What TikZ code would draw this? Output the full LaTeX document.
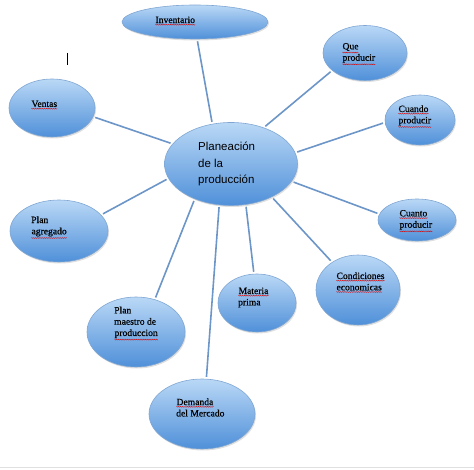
\documentclass[tikz,border=0pt]{standalone}
\usepackage{fontspec}
\setmainfont{Liberation Serif}
\newfontfamily\lblfont[FakeBold=0.5]{Liberation Serif}
\newfontfamily\headfont{Liberation Sans}
\usetikzlibrary{shapes.geometric,shadows,decorations.pathmorphing}
\definecolor{bubtop}{HTML}{BAD8F6}
\definecolor{bubbot}{HTML}{4F90D9}
\definecolor{bubedge}{HTML}{7FA6D3}
\definecolor{spokeblue}{HTML}{6C95C8}
% red spell-check squiggle under a word
\newcommand\squig[1]{\tikz[baseline=(w.base)]{\node[inner sep=0pt] (w) {#1};
  \draw[red!85!black, line width=0.3pt, decorate, decoration={snake, amplitude=0.5pt, segment length=1.8pt}]
    ([yshift=-1.4pt]w.south west) -- ([yshift=-1.4pt]w.south east);}}

\begin{document}
\begin{tikzpicture}[x=1pt, y=-1pt,
	bubble/.style={ellipse, draw=bubedge, line width=0.6pt, inner sep=0pt,
		top color=bubtop, bottom color=bubbot,
		drop shadow={shadow xshift=1pt, shadow yshift=-1.5pt, opacity=0.25}},
	lbl/.style={anchor=west, align=left, inner sep=0pt, font=\lblfont\fontsize{9.6}{11.3}\selectfont},
	spoke/.style={draw=spokeblue, line width=1.6pt, shorten <=2pt, shorten >=2pt}]
	\useasboundingbox (0,0) rectangle (474,470);

	% bubbles
	\node[bubble, minimum width=133pt, minimum height=83pt] (centre) at (231,164) {};
	\node[bubble, minimum width=146pt, minimum height=34pt] (inv) at (195,22) {};
	\node[bubble, minimum width=84pt, minimum height=55pt] (que) at (365,53) {};
	\node[bubble, minimum width=70pt, minimum height=50pt] (cuando) at (420,120) {};
	\node[bubble, minimum width=86pt, minimum height=58pt] (ventas) at (52,108) {};
	\node[bubble, minimum width=98pt, minimum height=62pt] (agreg) at (59,231) {};
	\node[bubble, minimum width=78pt, minimum height=42pt] (cuanto) at (417,220) {};
	\node[bubble, minimum width=84pt, minimum height=70pt] (cond) at (358,290) {};
	\node[bubble, minimum width=78pt, minimum height=58pt] (materia) at (257,303) {};
	\node[bubble, minimum width=98pt, minimum height=70pt] (maestro) at (136,332) {};
	\node[bubble, minimum width=106pt, minimum height=70pt] (demanda) at (202,414) {};

	% texts
	\node[lbl, font=\headfont\fontsize{11.5}{16.5}\selectfont] (tcentre) at ([shift={(-33,0)}]centre.center) {Planeación\\de la\\producción};
	\node[lbl] (tinv) at ([shift={(-40,-1)}]inv.center) {\squig{Inventario}};
	\node[lbl] (tque) at ([shift={(-23,1)}]que.center) {\squig{Que}\\\squig{producir}};
	\node[lbl] (tcuando) at ([shift={(-22,-3.5)}]cuando.center) {\squig{Cuando}\\\squig{producir}};
	\node[lbl] (tventas) at ([shift={(-21,-3)}]ventas.center) {\squig{Ventas}};
	\node[lbl] (tagreg) at ([shift={(-28,-3.5)}]agreg.center) {Plan\\\squig{agregado}};
	\node[lbl] (tcuanto) at ([shift={(-18,1)}]cuanto.center) {\squig{Cuanto}\\\squig{producir}};
	\node[lbl] (tcond) at ([shift={(-22,-7.5)}]cond.center) {\squig{Condiciones}\\\squig{economicas}};
	\node[lbl] (tmateria) at ([shift={(-19,-5.5)}]materia.center) {\squig{Materia}\\prima};
	\node[lbl] (tmaestro) at ([shift={(-22,-8.5)}]maestro.center) {Plan\\maestro de\\\squig{produccion}};
	\node[lbl] (tdemanda) at ([shift={(-26,-6.5)}]demanda.center) {\squig{Demanda}\\del Mercado};

	% spokes
	\draw[spoke] (centre.115) -- (inv.-83);
	\draw[spoke] (centre.48) -- (que.208);
	\draw[spoke] (centre.10) -- (cuando.184);
	\draw[spoke] (centre.161) -- (ventas.-12);
	\draw[spoke] (centre.193) -- (agreg.21);
	\draw[spoke] (centre.-16) -- (cuanto.171);
	\draw[spoke] (centre.-39) -- (cond.133);
	\draw[spoke] (centre.-70) -- (materia.96);
	\draw[spoke] (centre.-106) -- (demanda.83);
	\draw[spoke] (centre.-136) -- (maestro.60);

	% text cursor and page edge
	\draw[line width=0.7pt] (67,53) -- (67,65);
	\draw[black!12, line width=1pt] (0,467) -- (474,467);
\end{tikzpicture}
\end{document}
